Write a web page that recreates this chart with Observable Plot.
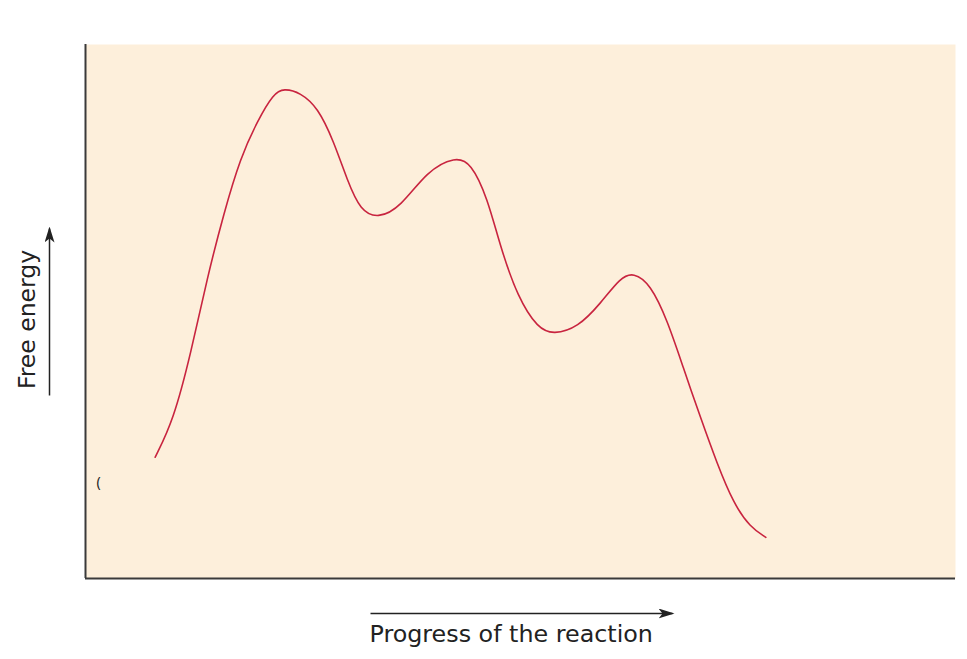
<!DOCTYPE html>
<html>
<head>
<meta charset="utf-8">
<script src="https://cdn.jsdelivr.net/npm/d3@7"></script>
<script src="https://cdn.jsdelivr.net/npm/@observablehq/plot@0.6"></script>
<style>
  html, body { margin: 0; padding: 0; background: #ffffff; }
  #chart { width: 967px; height: 659px; }
</style>
</head>
<body>
<div id="chart"></div>
<script>
// Reaction progress (0–100) and free energy (0–100, arbitrary units)
const progress = [8.0, 10.1, 12.1, 14.0, 15.9, 17.8, 19.8, 21.6, 22.8, 24.7, 26.7, 28.5, 30.1, 31.6, 33.6,
                  36.2, 39.3, 42.5, 44.3, 46.2, 47.7, 49.7, 52.0, 53.8, 56.6, 59.2, 61.5, 63.0, 64.9,
                  66.9, 68.7, 70.7, 72.6, 74.5, 76.4, 78.2];
const energy   = [22.7, 29.6, 42.1, 56.4, 68.4, 78.8, 85.8, 90.8, 91.8, 91.0, 88.2, 82.0, 74.5, 68.9, 67.4,
                  69.5, 76.4, 79.0, 77.9, 71.3, 62.0, 52.6, 46.8, 45.7, 47.0, 51.5, 56.4, 57.3, 55.2,
                  48.3, 39.5, 30.1, 21.5, 14.0, 9.6, 7.7];
const axisTitles = ["Free energy", "Progress of the reaction"];

const curve = progress.map((p, i) => ({progress: p, energy: energy[i]}));

// filled arrowhead marker
function filledArrow(color, context) {
  const m = d3.create("svg:marker")
    .attr("viewBox", "-14 -5 16 10")
    .attr("markerWidth", 16)
    .attr("markerHeight", 10)
    .attr("markerUnits", "userSpaceOnUse")
    .attr("orient", "auto")
    .attr("refX", 0).attr("refY", 0);
  m.append("path")
    .attr("fill", color)
    .attr("stroke", "none")
    .attr("d", "M2,0L-14,-5L-10,0L-14,5Z");
  return m.node();
}

const W = 967, H = 659;
const mL = 85, mR = 12, mT = 44, mB = 81;
const px = v => (v - mL) / (W - mL - mR) * 100;
const py = v => (H - mB - v) / (H - mT - mB) * 100;

const chart = Plot.plot({
  width: W,
  height: H,
  marginLeft: mL,
  marginRight: mR,
  marginTop: mT,
  marginBottom: mB,
  style: {background: "#ffffff", overflow: "visible"},
  x: {domain: [0, 100], axis: null},
  y: {domain: [0, 100], axis: null},
  marks: [
    Plot.frame({fill: "#fdefdb", stroke: "none"}),
    Plot.ruleX([0], {stroke: "#3a3a3a", strokeWidth: 2}),
    Plot.ruleY([0], {stroke: "#3a3a3a", strokeWidth: 2}),
    Plot.line(curve, {x: "progress", y: "energy", stroke: "#c8243f", strokeWidth: 1.6, curve: "basis"}),
    // axis direction arrows
    Plot.link([{x1: px(49), y1: py(395), x2: px(49), y2: py(228)}],
      {x1: "x1", y1: "y1", x2: "x2", y2: "y2", stroke: "#222", strokeWidth: 1.5, markerEnd: filledArrow, clip: false}),
    Plot.link([{x1: px(370), y1: py(613), x2: px(672), y2: py(613)}],
      {x1: "x1", y1: "y1", x2: "x2", y2: "y2", stroke: "#222", strokeWidth: 1.5, markerEnd: filledArrow, clip: false}),
    Plot.text([axisTitles[0]], {x: px(27), y: py(319), text: d => d, rotate: -90, fontSize: 23.5,
      fontFamily: "DejaVu Sans", fill: "#222", clip: false}),
    Plot.text([axisTitles[1]], {x: px(369), y: py(634), text: d => d, textAnchor: "start", fontSize: 23.8,
      fontFamily: "DejaVu Sans", fill: "#222", clip: false}),
    Plot.text(["("], {x: px(98), y: py(482), text: d => d, fontSize: 14, fill: "#222"})
  ]
});
document.getElementById("chart").append(chart);
</script>
</body>
</html>
